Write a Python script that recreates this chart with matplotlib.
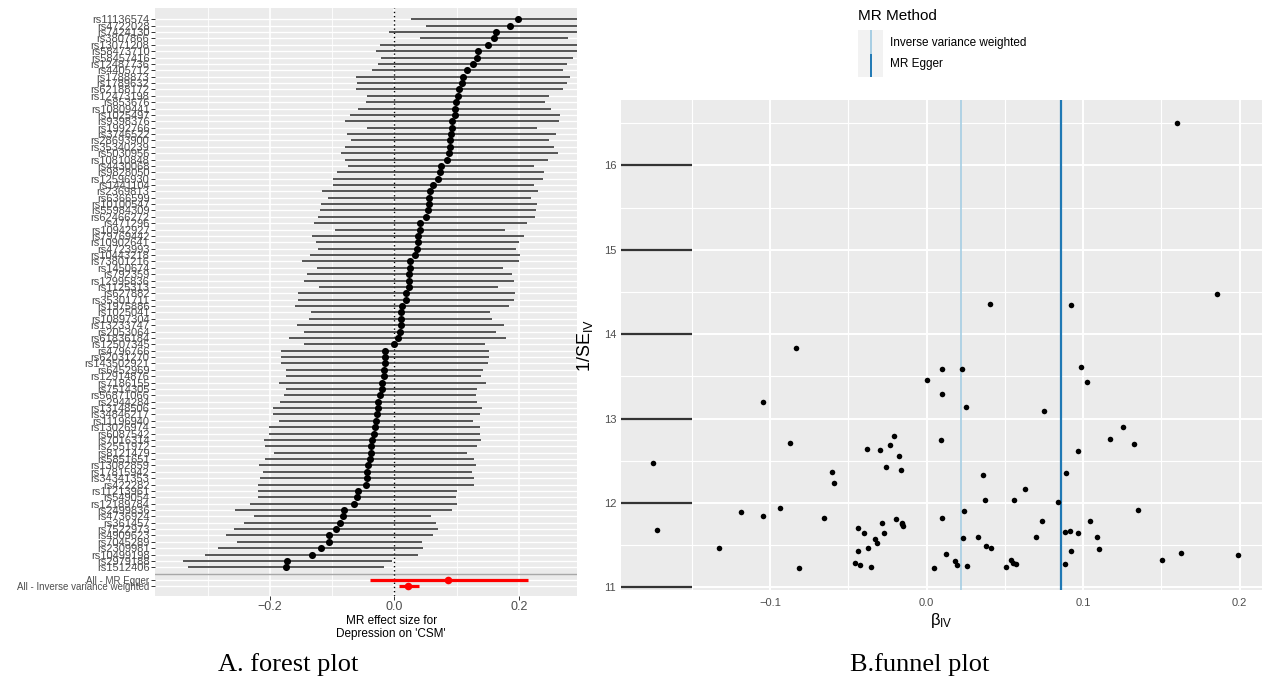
import numpy as np
import matplotlib
matplotlib.use('Agg')
import matplotlib.pyplot as plt
from matplotlib.ticker import MultipleLocator

plt.rcParams['font.family'] = ['Liberation Sans', 'DejaVu Sans']

# per-SNP Wald ratios (ordered by effect size) and their precision 1/SE
snp = ['rs11136574', 'rs4722028', 'rs7424130', 'rs3807866', 'rs13071208', 'rs58473710',
       'rs58457416', 'rs12487736', 'rs4405712', 'rs1788873', 'rs1789632', 'rs62188172',
       'rs12473198', 'rs853676', 'rs10809441', 'rs1025497', 'rs9398376', 'rs1992766',
       'rs3746522', 'rs28693900', 'rs35340239', 'rs5030956', 'rs10810848', 'rs4430068',
       'rs9828050', 'rs12596930', 'rs1441104', 'rs2369813', 'rs6366599', 'rs10100547',
       'rs55984309', 'rs62466272', 'rs471296', 'rs10942927', 'rs79769442', 'rs10902641',
       'rs4723993', 'rs10443218', 'rs73801216', 'rs1450674', 'rs792359', 'rs12995836',
       'rs1125313', 'rs627882', 'rs35301711', 'rs1975886', 'rs1025041', 'rs10897304',
       'rs13233747', 'rs2053064', 'rs61836184', 'rs12507345', 'rs4796766', 'rs62031270',
       'rs143502921', 'rs6452969', 'rs12914876', 'rs7186155', 'rs7514305', 'rs56871066',
       'rs2944284', 'rs13148506', 'rs34846217', 'rs11196940', 'rs13026974', 'rs6087542',
       'rs7016314', 'rs2551972', 'rs8121479', 'rs5851651', 'rs13082859', 'rs17815942',
       'rs34341353', 'rs422282', 'rs11213961', 'rs549054', 'rs12189784', 'rs2499836',
       'rs4736924', 'rs361457', 'rs7522973', 'rs4909623', 'rs7045289', 'rs2309981',
       'rs10499198', 'rs2979188', 'rs1512406']

beta = [0.1989, 0.1855, 0.1625, 0.1602, 0.1506, 0.1348, 0.1327, 0.1254, 0.1169, 0.1101,
        0.1086, 0.1042, 0.1024, 0.0984, 0.0969, 0.0967, 0.0924, 0.0920, 0.0914, 0.0892,
        0.0886, 0.0882, 0.0837, 0.0751, 0.0735, 0.0696, 0.0626, 0.0573, 0.0556, 0.0550,
        0.0537, 0.0509, 0.0411, 0.0406, 0.0377, 0.0375, 0.0358, 0.0326, 0.0256, 0.0249,
        0.0238, 0.0230, 0.0228, 0.0192, 0.0181, 0.0125, 0.0100, 0.0099, 0.0098, 0.0089,
        0.0049, 0.0000, -0.0153, -0.0156, -0.0160, -0.0166, -0.0175, -0.0196, -0.0207,
        -0.0233, -0.0260, -0.0271, -0.0288, -0.0298, -0.0320, -0.0328, -0.0354, -0.0377,
        -0.0381, -0.0399, -0.0428, -0.0437, -0.0440, -0.0458, -0.0594, -0.0603, -0.0656,
        -0.0818, -0.0833, -0.0874, -0.0935, -0.1044, -0.1046, -0.1185, -0.1327, -0.1725,
        -0.1747]

inv_se = [11.38, 14.47, 11.41, 16.50, 11.32, 11.92, 12.70, 12.90, 12.76, 11.45,
          11.60, 11.79, 13.43, 13.61, 12.62, 11.64, 11.43, 14.35, 11.67, 12.35,
          11.66, 11.28, 12.01, 13.09, 11.79, 11.60, 12.17, 11.28, 12.03, 11.29,
          11.32, 11.24, 11.46, 14.36, 11.49, 12.03, 12.33, 11.60, 11.25, 13.14,
          11.90, 11.59, 13.59, 11.27, 11.31, 11.39, 13.59, 13.29, 11.82, 12.74,
          11.23, 13.46, 11.73, 11.76, 11.745, 12.39, 12.56, 11.81, 12.79,
          12.69, 12.42, 11.64, 11.76, 12.63, 11.52, 11.57, 11.24, 11.46,
          12.64, 11.64, 11.26, 11.70, 11.43, 11.29, 12.23, 12.37, 11.82,
          11.23, 13.84, 12.71, 11.94, 11.84, 13.19, 11.89, 11.46, 11.68,
          12.47]

# pooled estimates
method = ['MR Egger', 'Inverse variance weighted']
method_label = ['All - MR Egger', 'All - Inverse variance weighted']
method_b = [0.0856, 0.0220]
method_lo = [-0.0386, 0.0065]
method_hi = [0.2138, 0.0400]
method_col = ['#1F78B4', '#A6CEE3']

W, H = 1262, 689
fig = plt.figure(figsize=(W / 100, H / 100), dpi=100)
gray_txt = '#4D4D4D'

# ---------------- forest plot ----------------
ax1 = fig.add_axes([155 / W, 1 - 595.7 / H, (576.7 - 155) / W, (595.7 - 8.3) / H])
ax1.set_facecolor('#EBEBEB')
n = len(snp)
rows = np.arange(n)
b = np.array(beta)
se = 1 / np.array(inv_se)
ax1.hlines(rows, b - 1.96 * se, b + 1.96 * se, color='#3a3a3a', lw=1.2, zorder=2)
ax1.scatter(b, rows, s=26, color='black', zorder=3, linewidths=0)

mrows = [n + 1, n + 2]
ax1.hlines(mrows, method_lo, method_hi, color='red', lw=2.3, zorder=2)
ax1.scatter(method_b, mrows, s=30, color='red', zorder=3, linewidths=0)

ax1.axhline(n, color='#a8a8a8', lw=1.0, zorder=1)
ax1.axvline(0, color='black', lw=1.0, ls=(0, (1, 2)), zorder=1.5)

ax1.set_xlim(-0.3847, 0.2927)
ax1.set_ylim(n + 3.45, -1.73)
ax1.set_yticks(list(rows) + mrows)
ax1.set_yticklabels(snp + method_label)
ax1.set_xticks([-0.2, 0.0, 0.2])
ax1.set_xticklabels(['\u22120.2', '0.0', '0.2'])
ax1.xaxis.set_minor_locator(MultipleLocator(0.1))
ax1.grid(axis='y', which='major', color='white', lw=1.0, zorder=0)
ax1.grid(axis='x', which='major', color='white', lw=1.2, zorder=0)
ax1.grid(axis='x', which='minor', color='white', lw=0.6, zorder=0)
ax1.set_axisbelow(True)
for s in ax1.spines.values():
    s.set_visible(False)
ax1.tick_params(axis='y', length=3, width=0.7, color='#333333', labelsize=8,
                labelcolor=gray_txt, pad=1)
ax1.tick_params(axis='x', which='major', length=3, width=0.7, color='#333333',
                labelsize=9, labelcolor=gray_txt, pad=1)
ax1.tick_params(axis='x', which='minor', length=0)
for lab in ax1.get_yticklabels()[n:]:
    lab.set_fontsize(7)
ax1.set_xlabel("MR effect size for\nDepression on 'CSM'", fontsize=8.5, linespacing=1.1)
ax1.xaxis.set_label_coords(0.56, -0.033)

# ---------------- funnel plot ----------------
ax2 = fig.add_axes([621 / W, 1 - 590 / H, (1262 - 621) / W, (590 - 100) / H])
ax2.set_facecolor('#EBEBEB')
x0, x1 = -0.1953, 0.2143
ax2.set_xlim(x0, x1)
ax2.set_ylim(10.968, 16.774)
ax2.set_xticks([-0.1, 0.0, 0.1, 0.2])
ax2.set_xticklabels(['\u22120.1', '0.0', '0.1', '0.2'])
ax2.set_yticks([11, 12, 13, 14, 15, 16])
ax2.xaxis.set_minor_locator(MultipleLocator(0.05))
ax2.yaxis.set_minor_locator(MultipleLocator(0.5))
ax2.grid(which='major', color='white', lw=1.4, zorder=0)
ax2.grid(which='minor', color='white', lw=0.8, zorder=0)
ax2.set_axisbelow(True)
for s in ax2.spines.values():
    s.set_visible(False)
ax2.tick_params(which='both', length=0, labelsize=8, labelcolor=gray_txt)
ax2.tick_params(axis='x', pad=6)

ax2.hlines([11, 12, 13, 14, 15, 16], x0, -0.15, color='#333333', lw=1.6, zorder=1)
for mb, mc, lw in zip(method_b, method_col, [1.6, 1.2]):
    ax2.axvline(mb, color=mc, lw=lw, zorder=1.5)
ax2.scatter(beta, inv_se, s=16, color='black', zorder=3, linewidths=0)

ax2.set_xlabel(r'$\mathregular{\beta_{IV}}$', fontsize=12, labelpad=2)
ax2.set_ylabel(r'$\mathregular{1/SE_{IV}}$', fontsize=13, labelpad=6)

# legend for the method lines
fig.text(858 / W, 1 - 16 / H, 'MR Method', fontsize=11, va='center', ha='left')
kax = fig.add_axes([858 / W, 1 - 77 / H, 25 / W, 47 / H])
kax.set_facecolor('#F2F2F2')
kax.set_xlim(0, 1)
kax.set_ylim(0, 2)
kax.vlines([0.5, 0.5], [1, 0], [2, 1], colors=[method_col[1], method_col[0]], lw=1.4)
kax.set_xticks([])
kax.set_yticks([])
for s in kax.spines.values():
    s.set_visible(False)
fig.text(890 / W, 1 - 43 / H, 'Inverse variance weighted', fontsize=8.5, va='center')
fig.text(890 / W, 1 - 64 / H, 'MR Egger', fontsize=8.5, va='center')

# panel captions
fig.text(288 / W, 1 - 665 / H, 'A. forest plot', fontsize=19, ha='center', va='center',
         family='Liberation Serif')
fig.text(920 / W, 1 - 665 / H, 'B.funnel plot', fontsize=19, ha='center', va='center',
         family='Liberation Serif')

fig.savefig('out.png', dpi=100)
